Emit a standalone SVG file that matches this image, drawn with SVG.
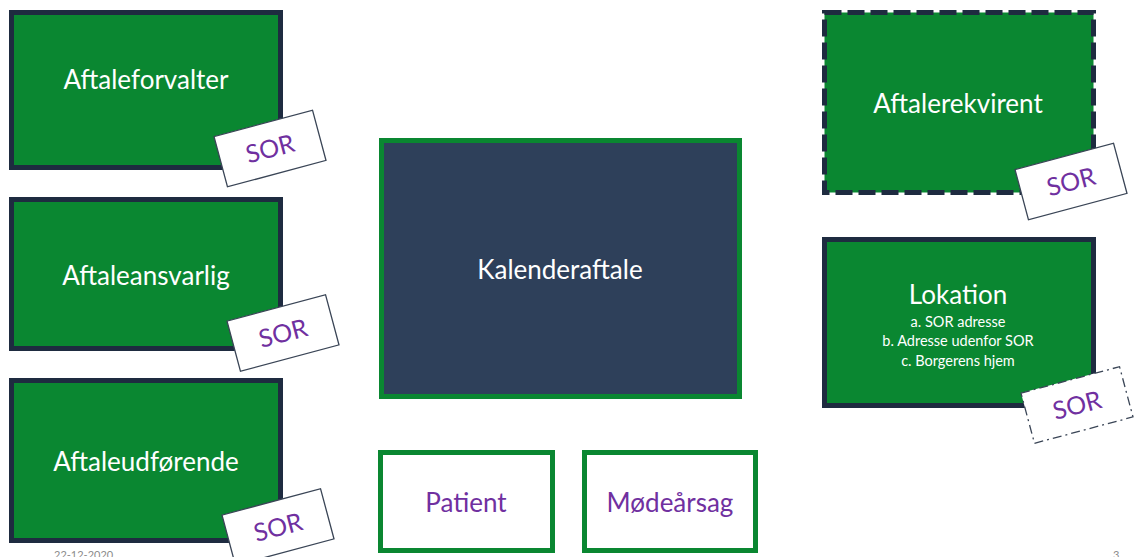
<svg xmlns="http://www.w3.org/2000/svg" width="1140" height="557" viewBox="0 0 1140 557">
<style>
.role{fill:#0A8731;stroke:#1E2B40;stroke-width:5}
.dashed{stroke-dasharray:17 6}
.cal{fill:#2E405A;stroke:#0A8731;stroke-width:5}
.attr{fill:#fff;stroke:#0A8731;stroke-width:5}
.tag{fill:#fff;stroke:#3A4556;stroke-width:1.3}
.tagdd{stroke-dasharray:9 4 2 4}
.wt{font-family:Lato,"Open Sans","Liberation Sans",sans-serif;fill:#fff;text-anchor:middle}
.pt{font-family:Lato,"Open Sans","Liberation Sans",sans-serif;fill:#7030A0;text-anchor:middle}
.big{font-size:26px}
.tagt{font-size:25px}
.small{font-size:14.5px}
.foot{font-family:Lato,"Liberation Sans",sans-serif;font-size:11px;fill:#8C8C8C}
</style>
<rect width="1140" height="557" fill="#fff"/>
<g id="connectors"></g>

<g id="aftaleforvalter">
<rect class="role" x="11.5" y="12.5" width="269" height="155"/>
<text class="wt big" x="146" y="89">Aftaleforvalter</text>
<g transform="translate(270,148.5) rotate(-15)">
<rect class="tag" x="-51" y="-26" width="102" height="52"/>
<text class="pt tagt" x="0" y="9">SOR</text>
</g>
</g>

<g id="aftaleansvarlig">
<rect class="role" x="11.5" y="199.5" width="269" height="149"/>
<text class="wt big" x="146" y="285">Aftaleansvarlig</text>
<g transform="translate(283,333) rotate(-15)">
<rect class="tag" x="-51" y="-26" width="102" height="52"/>
<text class="pt tagt" x="0" y="9">SOR</text>
</g>
</g>

<g id="aftaleudforende">
<rect class="role" x="11.5" y="380.5" width="269" height="160"/>
<text class="wt big" x="146" y="471">Aftaleudførende</text>
<g transform="translate(278,527) rotate(-15)">
<rect class="tag" x="-51" y="-26" width="102" height="52"/>
<text class="pt tagt" x="0" y="9">SOR</text>
</g>
</g>

<g id="kalenderaftale">
<rect class="cal" x="381.5" y="140.5" width="358" height="256"/>
<text class="wt big" x="560" y="279">Kalenderaftale</text>
</g>

<g id="patient">
<rect class="attr" x="380.5" y="452.5" width="172" height="98"/>
<text class="pt big" x="466" y="512">Patient</text>
</g>

<g id="modearsag">
<rect class="attr" x="584.5" y="452.5" width="171" height="98"/>
<text class="pt big" x="670" y="512">Mødeårsag</text>
</g>

<g id="aftalerekvirent">
<rect class="role dashed" x="824.5" y="12.5" width="269" height="180"/>
<text class="wt big" x="958" y="113">Aftalerekvirent</text>
<g transform="translate(1071,181.5) rotate(-15)">
<rect class="tag" x="-51" y="-26" width="102" height="52"/>
<text class="pt tagt" x="0" y="9">SOR</text>
</g>
</g>

<g id="lokation">
<rect class="role" x="824.5" y="239.5" width="269" height="166"/>
<text class="wt big" x="958" y="304">Lokation</text>
<text class="wt small" x="958" y="327">a. SOR adresse</text>
<text class="wt small" x="958" y="346">b. Adresse udenfor SOR</text>
<text class="wt small" x="958" y="366">c. Borgerens hjem</text>
<g transform="translate(1077,405) rotate(-15)">
<rect class="tag tagdd" x="-51" y="-26" width="102" height="52"/>
<text class="pt tagt" x="0" y="9">SOR</text>
</g>
</g>

<text class="foot" x="54" y="559">22-12-2020</text>
<text class="foot" x="1113" y="559">3</text>
</svg>
